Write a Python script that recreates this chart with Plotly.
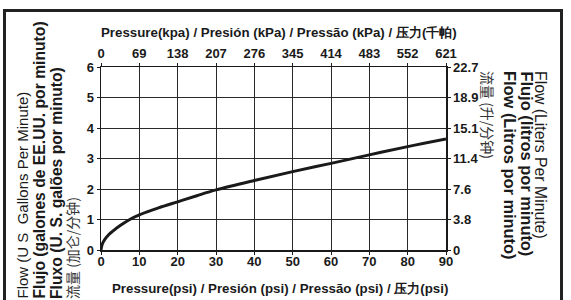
import plotly.graph_objects as go

# ---- data ----
psi = [0, 0.25, 0.5, 1, 2, 3, 5, 7.5, 10, 15, 20, 25, 30, 40, 50, 60, 70, 80, 90]
gpm = [0, 0.16, 0.24, 0.35, 0.5, 0.61, 0.8, 1.0, 1.15, 1.38, 1.58, 1.78, 1.97, 2.28, 2.57, 2.84, 3.12, 3.39, 3.64]

psi_ticks = [0, 10, 20, 30, 40, 50, 60, 70, 80, 90]
kpa_labels = ["0", "69", "138", "207", "276", "345", "414", "483", "552", "621"]
gpm_ticks = [0, 1, 2, 3, 4, 5, 6]
lpm_labels = ["0", "3.8", "7.6", "11.4", "15.1", "18.9", "22.7"]

top_title = "Pressure(kpa) / Presión (kPa) / Pressão (kPa) / 压力(千帕)"
bottom_title = "Pressure(psi) / Presión (psi) / Pressão (psi) / 压力(psi)"
left_titles = ["Flow (U S  Gallons Per Minute)", "Flujo (galones de EE.UU. por minuto)",
               "Fluxo (U. S. galões por minuto)", "流量 (加仑/分钟)"]
right_titles = ["Flow (Liters Per Minute)", "Flujo (litros por minuto)",
                "Flow (Litros por minuto)", "流量 (升/分钟)"]

W, H = 571, 300
L, R, T, B = 101, 446, 67, 250  # plot area in pixels


def fx(x):
    return x / W


def fy(y):
    return (H - y) / H


FONT = "Liberation Sans, Arial, sans-serif"
CJK = "Noto Sans CJK SC"
INK = "#1a1a1a"

fig = go.Figure()
fig.add_trace(go.Scatter(x=psi, y=gpm, mode="lines", line=dict(color=INK, width=3, shape="spline"),
                         hoverinfo="skip", showlegend=False))
fig.add_trace(go.Scatter(x=psi_ticks, y=gpm_ticks[:1] * len(psi_ticks), xaxis="x2", yaxis="y2",
                         mode="markers", marker=dict(opacity=0), hoverinfo="skip", showlegend=False))

tickfont = dict(family=FONT, size=13, color=INK, weight="bold")
common = dict(showgrid=True, gridcolor="#2a2a2a", gridwidth=1, zeroline=False, automargin=False,
              showline=True, linecolor=INK, linewidth=1.5, ticks="outside", ticklen=3,
              tickwidth=1, tickcolor=INK, tickfont=tickfont)
xdom = [fx(L), fx(R)]
ydom = [fy(B), fy(T)]

fig.update_layout(
    width=W, height=H,
    margin=dict(l=0, r=0, t=0, b=0),
    paper_bgcolor="white", plot_bgcolor="rgba(0,0,0,0)",
    xaxis=dict(domain=xdom, range=[0, 90], tickvals=psi_ticks, ticktext=[str(v) for v in psi_ticks],
               ticklabelstandoff=-4, **common),
    xaxis2=dict(range=[0, 90], overlaying="x", side="top", anchor="y", tickvals=psi_ticks,
                ticktext=kpa_labels, ticklabelstandoff=-1, **common),
    yaxis=dict(domain=ydom, range=[0, 6], tickvals=gpm_ticks, ticktext=[str(v) for v in gpm_ticks], **common),
    yaxis2=dict(range=[0, 6], overlaying="y", side="right", anchor="x", tickvals=gpm_ticks,
                ticktext=lpm_labels, **common),
)

ann = []
ann.append(dict(text=top_title, x=fx(279), y=fy(32), xref="paper", yref="paper",
                showarrow=False, xanchor="center", yanchor="middle",
                font=dict(family=FONT, size=13.3, color=INK, weight="bold")))
ann.append(dict(text=bottom_title, x=fx(280), y=fy(288), xref="paper", yref="paper",
                showarrow=False, xanchor="center", yanchor="middle",
                font=dict(family=FONT, size=13.3, color=INK, weight="bold")))

left_x = [22, 39, 56, 72]
left_fonts = [dict(family=FONT, size=15, color=INK),
              dict(family=FONT, size=15.7, color=INK, weight="bold"),
              dict(family=FONT, size=15.7, color=INK, weight="bold"),
              dict(family=CJK, size=14, color="#333333")]
for t, x, f in zip(left_titles, left_x, left_fonts):
    ann.append(dict(text=t, x=fx(x), y=fy(301), xref="paper", yref="paper", showarrow=False,
                    textangle=-90, xanchor="center", yanchor="bottom", font=f))

right_x = [541, 527, 510, 488]
right_fonts = [dict(family=FONT, size=15.8, color=INK),
               dict(family=FONT, size=16.4, color=INK, weight="bold"),
               dict(family=FONT, size=16.4, color=INK, weight="bold"),
               dict(family=CJK, size=14, color="#333333")]
for t, x, f in zip(right_titles, right_x, right_fonts):
    ann.append(dict(text=t, x=fx(x), y=fy(69), xref="paper", yref="paper", showarrow=False,
                    textangle=90, xanchor="center", yanchor="top", font=f))
fig.update_layout(annotations=ann)

# outer frame as layout shapes (paper coordinates)
frame_line = dict(color="#222222", width=3)
fig.add_shape(type="line", xref="paper", yref="paper", x0=fx(4.5), x1=fx(4.5), y0=fy(9), y1=fy(299),
              line=frame_line, layer="above")
fig.add_shape(type="line", xref="paper", yref="paper", x0=fx(3), x1=fx(563), y0=fy(10.5), y1=fy(10.5),
              line=frame_line, layer="above")
fig.add_shape(type="line", xref="paper", yref="paper", x0=fx(561.5), x1=fx(561.5), y0=fy(9), y1=fy(299),
              line=frame_line, layer="above")

frame_js = (
    "document.body.style.margin='0px';document.body.style.overflow='hidden';"
    "var f=document.createElement('div');"
    "f.style.cssText='position:absolute;left:3px;top:9px;width:560px;height:400px;"
    "border:3px solid #222;border-bottom:none;box-sizing:border-box;pointer-events:none;z-index:10;';"
    "document.body.appendChild(f);"
)
fig.write_html("out.html", config={"displayModeBar": False, "staticPlot": True}, post_script=frame_js)
